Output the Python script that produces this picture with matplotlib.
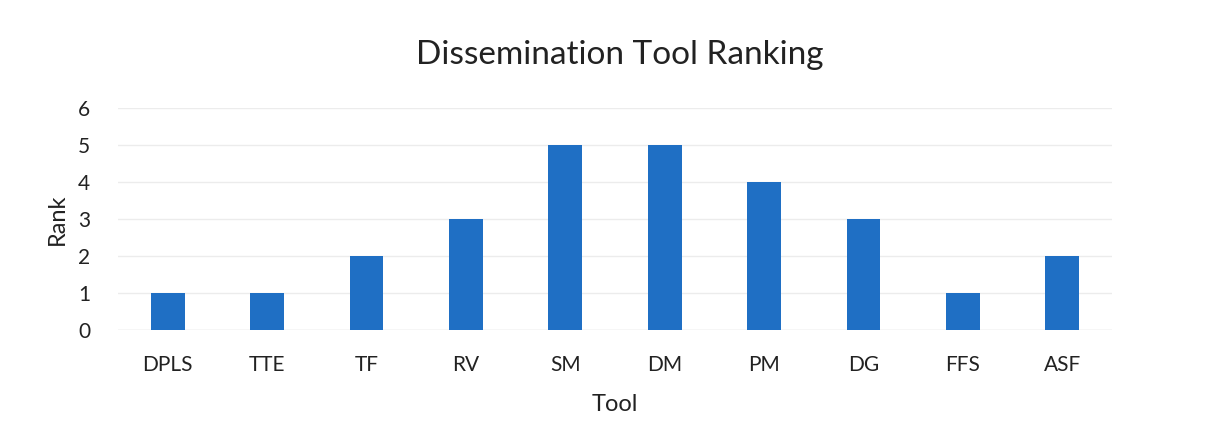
import matplotlib.pyplot as plt

tools = ["DPLS", "TTE", "TF", "RV", "SM", "DM", "PM", "DG", "FFS", "ASF"]
ranks = [1, 1, 2, 3, 5, 5, 4, 3, 1, 2]
yticks = [0, 1, 2, 3, 4, 5, 6]

plt.rcParams['font.family'] = ['Lato', 'DejaVu Sans']

fig = plt.figure(figsize=(12.29, 4.48), dpi=100)
ax = fig.add_axes([118/1229, (448-330)/448, (1112-118)/1229, (330-108)/448])

x = range(len(tools))
ax.bar(x, ranks, width=0.34, color='#1f6fc4', zorder=3)
ax.set_xlim(-0.5, len(tools) - 0.5)
ax.set_ylim(0, 6)
ax.set_yticks(yticks)
ax.set_xticks(list(x))
ax.set_xticklabels(tools)
ax.tick_params(axis='both', length=0, labelsize=15, colors='#222222')
ax.tick_params(axis='x', pad=18)
ax.tick_params(axis='y', pad=20)
ax.grid(axis='y', color='#ececec', linewidth=1, zorder=0)
ax.axhline(0, color='#e4e4e4', linewidth=1, zorder=1)
for s in ax.spines.values():
    s.set_visible(False)

ax.set_xlabel("Tool", fontsize=17, labelpad=14, color='#222222')
ax.set_ylabel("Rank", fontsize=17, labelpad=7, color='#222222')
fig.suptitle("Dissemination Tool Ranking", fontsize=24, y=1 - 55/448, va='center', x=620/1229, color='#222222')

fig.savefig("out.png", dpi=100, facecolor='white')
